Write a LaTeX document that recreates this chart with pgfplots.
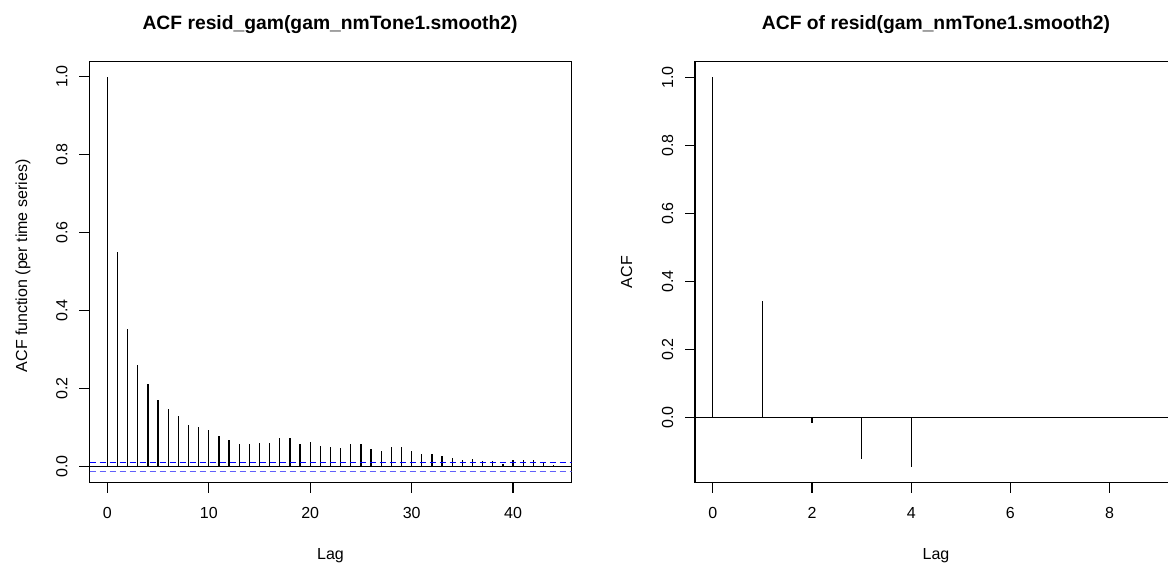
\documentclass[border=0pt]{standalone}
\usepackage{fontspec}
\setmainfont{Liberation Sans}
\usepackage{pgfplots}
\pgfplotsset{compat=1.18}
\definecolor{cilow}{RGB}{95,95,250}
\pgfplotsset{
  racf/.style={
    scale only axis, width=241pt, height=210.5pt, anchor=south west,
    axis line style={black, line width=0.6pt},
    tick align=outside, major tick length=5pt,
    tick style={black, line width=0.6pt},
    xtick pos=bottom, ytick pos=left,
    /pgf/number format/assume math mode=true,
    tick label style={font=\fontsize{8}{9.6}\selectfont},
    label style={font=\fontsize{8}{9.6}\selectfont},
    xticklabel style={anchor=base, yshift=-13pt},
    yticklabel style={xshift=-6pt, rotate=90, anchor=base},
    ytick={0,0.2,0.4,0.6,0.8,1},
    yticklabels={0.0,0.2,0.4,0.6,0.8,1.0},
    xlabel style={at={(axis description cs:0.5,0)}, anchor=base, yshift=-38.3pt},
    clip=true,
  }
}
\begin{document}
\begin{tikzpicture}
\path[use as bounding box, clip] (0,0) rectangle (584pt,282pt);
% left panel
\begin{axis}[racf,
  at={(44.75pt,40.65pt)},
  xmin=-1.76, xmax=45.76, ymin=-0.041, ymax=1.0385,
  xtick={0,10,20,30,40},
  xlabel={Lag}, ylabel={ACF function (per time series)},
  ylabel style={at={(axis description cs:-0.138,0.515)}, anchor=center},
]
\addplot[ycomb, black, line width=0.6pt] coordinates {
(0,1.0) (1,0.550) (2,0.353) (3,0.2615) (4,0.212) (5,0.172) (6,0.149) (7,0.129)
(8,0.106) (9,0.103) (10,0.095) (11,0.0795) (12,0.0675) (13,0.059) (14,0.059)
(15,0.0615) (16,0.060) (17,0.0735) (18,0.074) (19,0.059) (20,0.0625) (21,0.053)
(22,0.050) (23,0.047) (24,0.058) (25,0.058) (26,0.045) (27,0.041) (28,0.051)
(29,0.051) (30,0.040) (31,0.0315) (32,0.033) (33,0.028) (34,0.023) (35,0.018)
(36,0.0195) (37,0.0145) (38,0.0135) (39,0.007) (40,0.018) (41,0.016) (42,0.018)
(43,0.011) (44,0.004)
};
\addplot[black, line width=0.6pt] coordinates {(-1.76,0) (45.76,0)};
\addplot[blue, line width=0.5pt, dash pattern=on 3pt off 2pt] coordinates {(-1.76,0.012) (45.76,0.012)};
\addplot[cilow, line width=0.5pt, dash pattern=on 3pt off 2pt] coordinates {(-1.76,-0.012) (45.76,-0.012)};
\end{axis}
% right panel
\begin{axis}[racf,
  at={(347.5pt,40.65pt)},
  xmin=-0.36, xmax=9.36, ymin=-0.1908, ymax=1.0458,
  xtick={0,2,4,6,8},
  xlabel={Lag}, ylabel={ACF},
  ylabel style={at={(axis description cs:-0.1417,0.5)}, anchor=center},
]
\addplot[ycomb, black, line width=0.6pt] coordinates {
(0,1.0) (1,0.344) (2,-0.014) (3,-0.120) (4,-0.1437) (5,0) (6,0) (7,0) (8,0) (9,0)
};
\addplot[black, line width=0.6pt] coordinates {(-0.36,0) (9.36,0)};
\end{axis}
\node[anchor=base, font=\fontsize{9.65}{11}\selectfont\bfseries] at (165pt,267.3pt) {ACF resid\_gam(gam\_nmTone1.smooth2)};
\node[anchor=base, font=\fontsize{9.65}{11}\selectfont\bfseries] at (468pt,267.3pt) {ACF of resid(gam\_nmTone1.smooth2)};
\end{tikzpicture}
\end{document}
